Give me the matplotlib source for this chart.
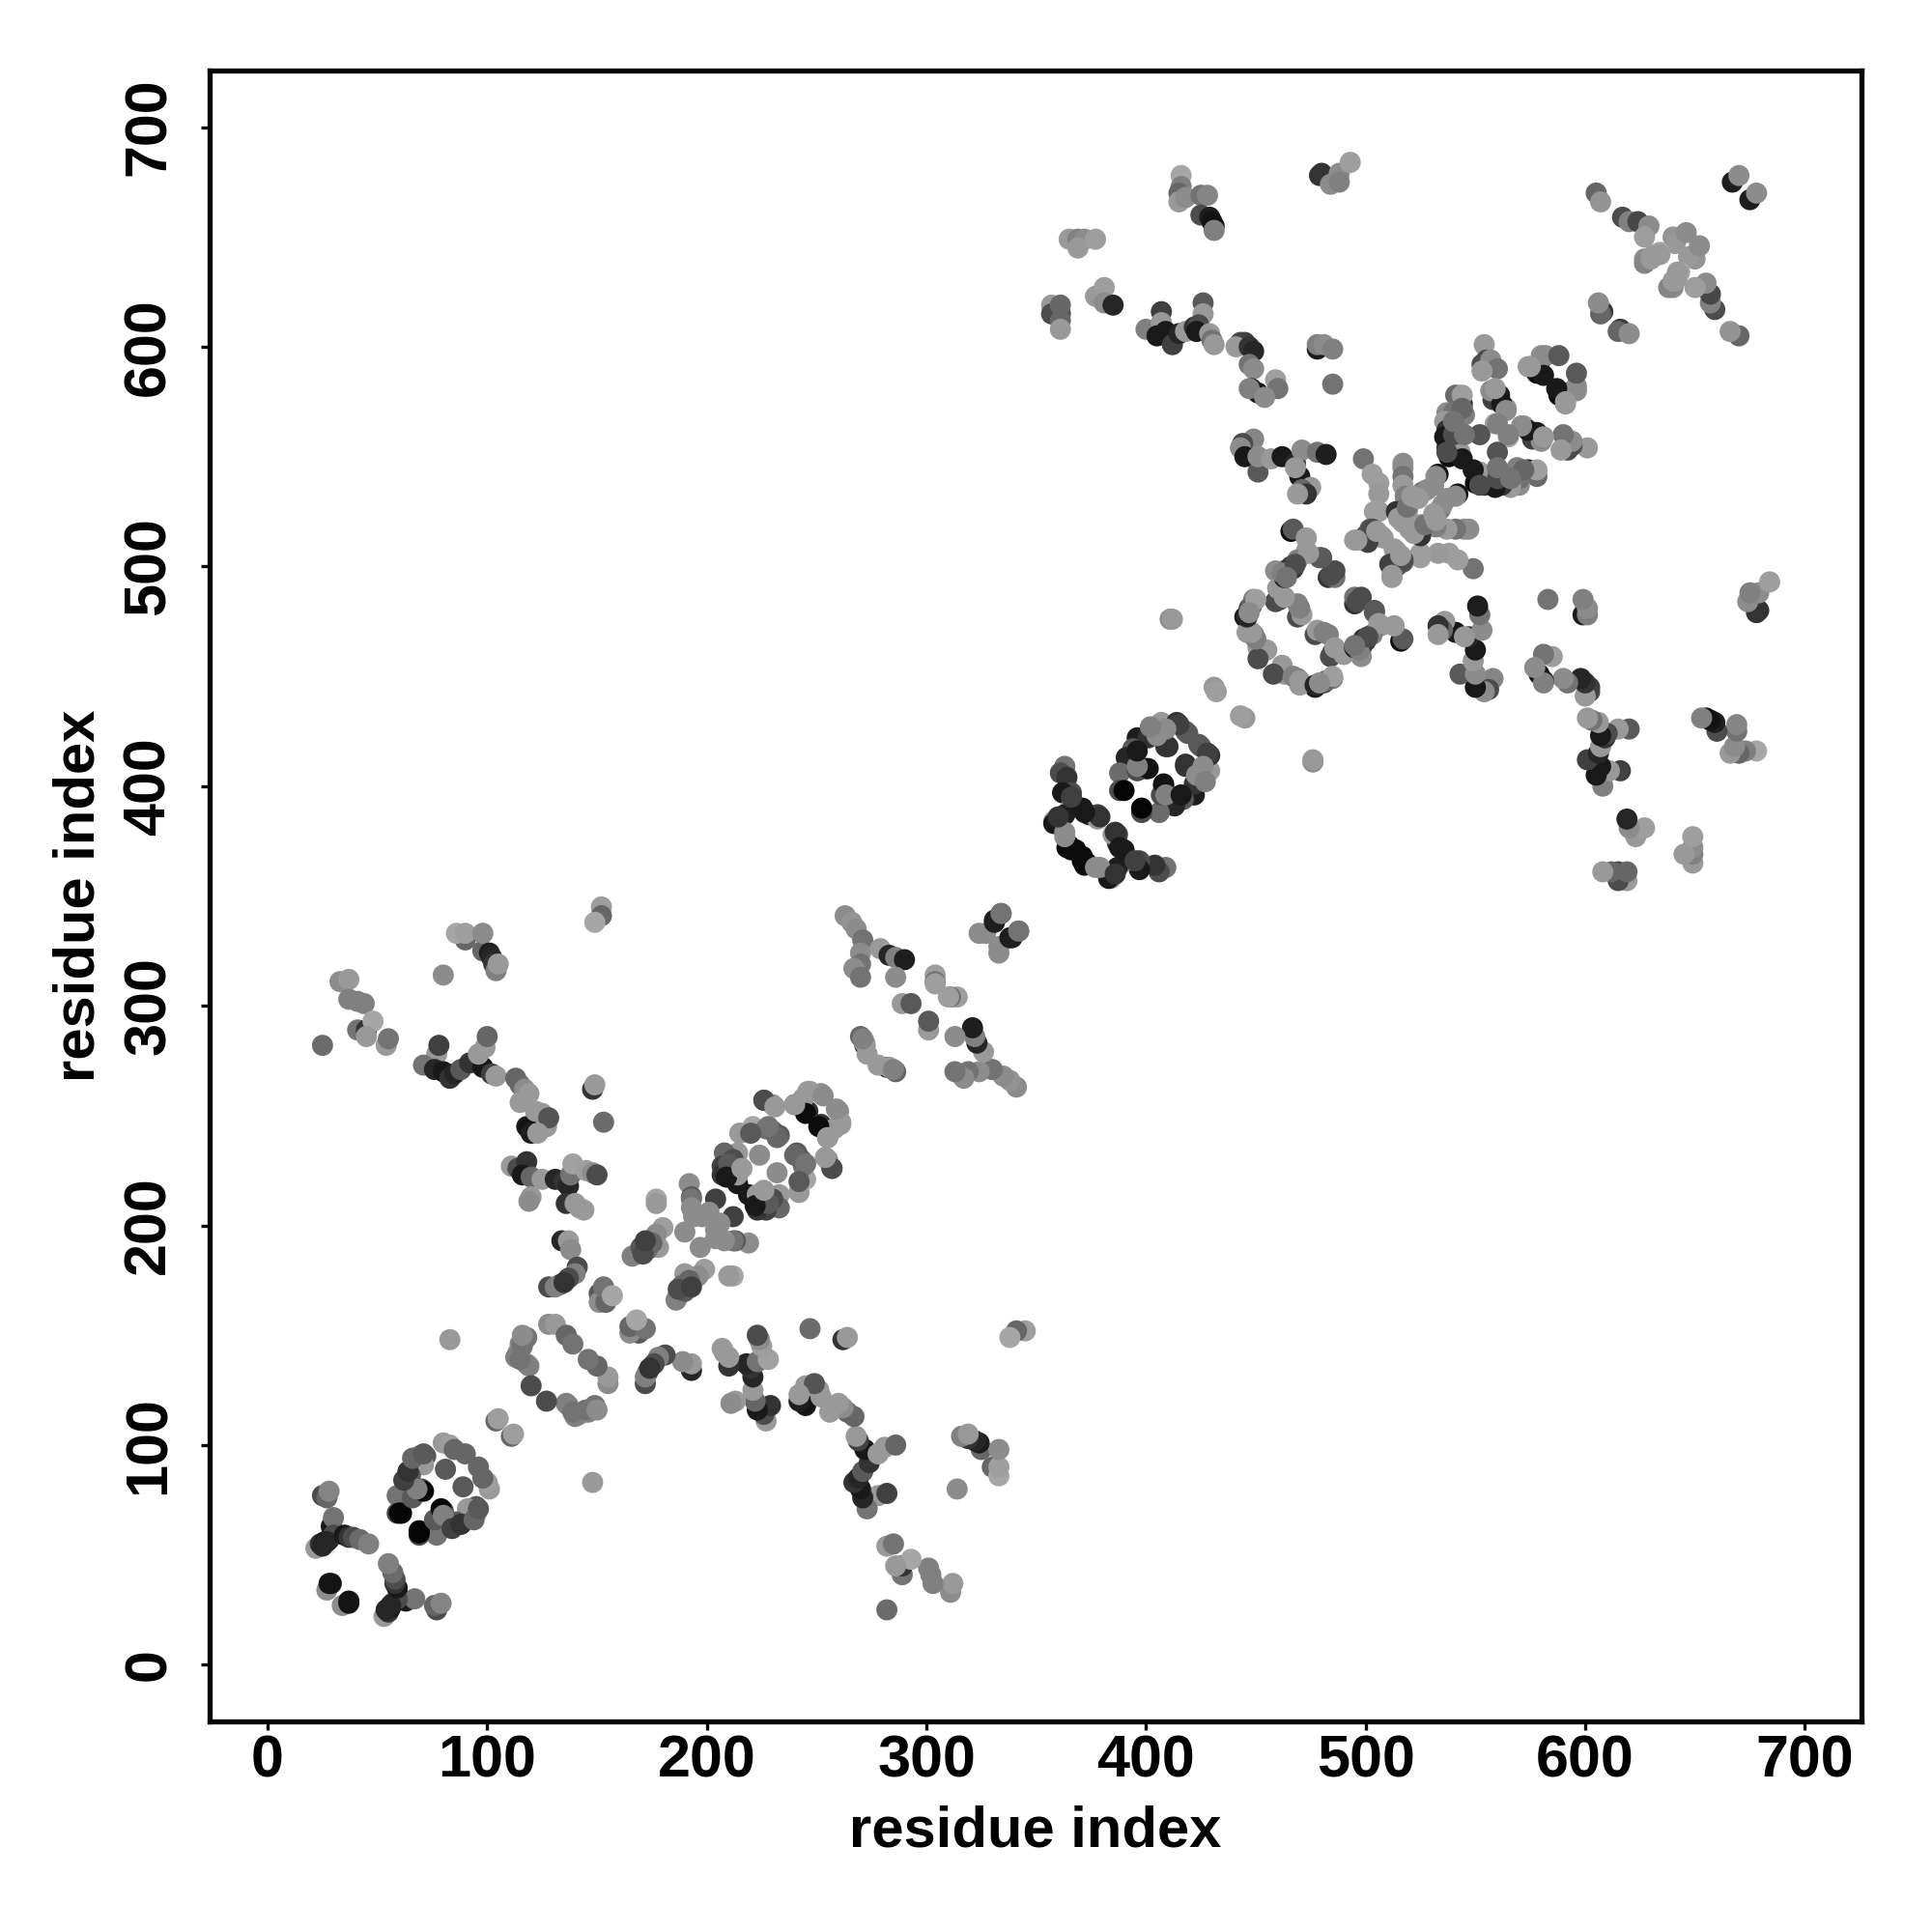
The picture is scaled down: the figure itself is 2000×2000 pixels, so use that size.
import matplotlib
matplotlib.use("Agg")
import matplotlib.pyplot as plt
import numpy as np

# contacts as (residue i, residue j, grey score), only i < j, the map is symmetric
arm_a = [(22, 53, .6), (24, 55, .2), (25, 77, .3), (27, 76, .4), (28, 79, .52), (29, 63, .1), (30, 67, .45),
         (26, 56, .1), (28, 57, .12), (30, 59, .3), (25, 54, .15), (27, 56, .15), (35, 59, .1), (37, 58, .2),
         (39, 58, .3), (42, 57, .42), (46, 55, .5), (27, 34, .55), (28, 37, .08), (29, 37, .08)]
ring_a = [(80, 101, .6), (83, 100, .62), (85, 98, .4), (90, 96, .4), (69, 95, .55), (72, 95, .35),
          (71, 91, .6), (64, 88, .15), (65, 86, .35), (81, 89, .35), (59, 77, .45), (59, 69, .3),
          (61, 69, .02), (60, 69, .02), (66, 76, .35), (70, 80, .3), (71, 79, .03), (68, 80, .5),
          (62, 84, .25), (64, 88, .2), (66, 94, .4), (71, 96, .35), (104, 111, .4), (105, 112, .62)]
far_a = [(152, 345, .62), (152, 341, .4), (149, 338, .65), (90, 330, .4), (86, 333, .65), (90, 333, .62),
         (98, 325, .4), (98, 333, .55), (101, 324, .12), (102, 322, .15), (103, 319, .2), (104, 316, .5),
         (105, 319, .6), (80, 314, .55), (33, 311, .55), (37, 312, .6), (37, 303, .5), (41, 302, .5),
         (44, 301, .5), (41, 289, .45), (45, 289, .2), (48, 293, .65), (45, 286, .6), (54, 282, .6),
         (55, 285, .45), (25, 282, .42), (83, 148, .6)]
band_a = [(77, 278, .6), (78, 282, .25), (71, 273, .45), (76, 271, .15), (80, 270, .1), (83, 267, .2),
          (85, 269, .15), (88, 271, .35), (92, 274, .2), (98, 272, .1), (96, 278, .6), (99, 281, .6),
          (100, 286, .4), (102, 269, .25), (104, 268, .6), (113, 267, .4), (115, 264, .4), (117, 262, .55),
          (119, 260, .6), (115, 256, .6), (118, 245, .1), (119, 244, .08), (120, 242, .12), (122, 252, .6),
          (125, 251, .6), (127, 245, .6), (128, 249, .33), (123, 242, .6), (148, 262, .2), (149, 264, .6),
          (153, 247, .42)]
band_b = [(111, 227, .6), (114, 226, .3), (118, 229, .2), (116, 223, .1), (120, 222, .4), (125, 221, .6),
          (120, 213, .6), (119, 211, .55), (131, 221, .15), (135, 220, .2), (137, 218, .15), (138, 223, .45),
          (139, 228, .63), (145, 225, .62), (148, 224, .55), (150, 223, .3), (136, 210, .2), (140, 210, .6),
          (142, 208, .6), (144, 207, .6), (134, 193, .15), (137, 193, .6), (138, 189, .55), (141, 181, .3),
          (140, 178, .5), (137, 176, .3), (133, 173, .35), (128, 172, .3), (131, 172, .5), (135, 174, .2),
          (151, 169, .35), (151, 165, .55), (154, 165, .4), (153, 172, .45), (157, 168, .65)]
loop_a = [(118, 149, .45), (115, 146, .5), (114, 142, .55), (113, 140, .5), (118, 137, .55), (119, 136, .5),
          (116, 145, .45), (128, 155, .55), (131, 155, .6), (136, 150, .4), (139, 146, .45), (120, 127, .3),
          (115, 139, .45), (116, 150, .55)]
core_a = [(177, 212, .65), (177, 210, .6), (180, 199, .62), (177, 196, .55), (178, 190, .6), (173, 189, .45),
          (168, 187, .3), (166, 186, .5), (175, 192, .4), (170, 190, .35), (171, 187, .3), (172, 193, .25),
          (192, 219, .55), (193, 213, .35), (204, 212, .25), (201, 206, .55), (194, 204, .55), (190, 197, .55),
          (198, 204, .55), (196, 205, .55), (193, 212, .45), (193, 208, .55)]
ring_b = [(226, 257, .35), (230, 255, .58), (240, 255, .4), (242, 255, .12), (246, 252, .2), (244, 258, .6),
          (246, 261, .6), (252, 260, .55), (247, 261, .6), (253, 259, .55), (245, 251, .05), (240, 255, .6),
          (226, 257, .3), (231, 254, .6), (215, 242, .6), (221, 245, .65), (227, 244, .45), (230, 243, .4),
          (233, 241, .35), (224, 232, .55), (232, 240, .4), (228, 245, .45), (214, 233, .6), (208, 233, .4),
          (212, 230, .3), (207, 227, .25), (207, 223, .2), (213, 224, .6), (214, 219, .1), (214, 223, .6),
          (210, 228, .35), (209, 222, .1), (216, 226, .6), (220, 242, .35)]
cross_a = [(263, 341, .55), (266, 338, .58), (268, 335, .55), (271, 330, .45), (270, 324, .55), (270, 319, .45),
           (267, 317, .55), (270, 313, .45), (279, 326, .6), (283, 323, .15), (286, 322, .5), (290, 321, .12),
           (286, 313, .55), (304, 314, .62), (304, 311, .45), (304, 310, .62), (289, 301, .6), (293, 301, .35),
           (270, 286, .4), (272, 282, .15), (273, 278, .6), (272, 283, .6), (271, 285, .5), (331, 339, .12),
           (324, 333, .55), (327, 333, .55), (334, 342, .4), (331, 338, .12), (334, 342, .45)]
arm_b = [(363, 409, .45), (361, 406, .3), (364, 404, .2), (366, 397, .3), (362, 397, .1), (366, 391, .55),
         (358, 384, .6), (358, 383, .1), (360, 385, .12), (363, 387, .12), (371, 390, .1), (374, 387, .2),
         (378, 387, .25), (378, 385, .6), (379, 386, .2), (363, 379, .55), (365, 373, .05), (364, 372, .05),
         (366, 371, .05), (368, 371, .05), (363, 377, .55), (372, 388, .1), (366, 395, .25), (360, 386, .2)]
ring_c = [(407, 429, .6), (414, 429, .2), (418, 425, .38), (409, 418, .2), (401, 423, .2), (396, 422, .12),
          (394, 417, .35), (391, 413, .15), (388, 406, .42), (388, 398, .3), (390, 398, .02), (400, 408, .02),
          (396, 407, .3), (401, 408, .08), (396, 409, .5), (410, 418, .2), (419, 424, .35), (415, 428, .25),
          (409, 426, .55), (401, 422, .2), (396, 416, .1), (405, 423, .55), (402, 427, .5), (431, 445, .6),
          (432, 443, .62)]
far_c = [(416, 678, .65), (416, 673, .5), (415, 670, .4), (415, 666, .6), (418, 668, .55), (425, 669, .45),
         (428, 669, .52), (425, 660, .3), (429, 659, .12), (430, 657, .08), (431, 655, .07), (431, 653, .5),
         (480, 679, .2), (479, 678, .2), (484, 674, .55), (488, 679, .55), (488, 675, .5), (493, 684, .62),
         (365, 649, .6), (369, 649, .5), (372, 649, .55), (369, 645, .6), (377, 649, .62), (379, 623, .2),
         (377, 623, .6), (381, 627, .62), (381, 620, .55), (385, 619, .15), (357, 619, .6), (357, 615, .3),
         (361, 615, .3), (361, 619, .4), (361, 612, .4), (361, 608, .6)]
band_c = [(400, 608, .5), (407, 616, .25), (407, 611, .6), (405, 605, .1), (409, 607, .1), (412, 601, .25),
          (415, 606, .15), (418, 607, .6), (422, 609, .2), (426, 620, .35), (426, 615, .6), (424, 610, .3),
          (423, 607, .1), (429, 606, .6), (430, 603, .45), (431, 601, .6), (443, 602, .3), (445, 602, .25),
          (441, 600, .6), (447, 600, .2), (449, 598, .15), (447, 592, .45), (449, 590, .55), (448, 581, .12),
          (451, 579, .1), (447, 581, .5), (459, 585, .62), (460, 581, .45), (454, 577, .55), (478, 599, .1),
          (478, 601, .5), (481, 601, .55), (485, 599, .5), (485, 583, .45), (411, 476, .55), (412, 476, .6)]
band_d = [(449, 558, .52), (444, 556, .3), (443, 554, .55), (445, 550, .1), (451, 543, .35), (451, 550, .55),
          (457, 549, .6), (462, 550, .1), (468, 547, .15), (471, 553, .55), (478, 552, .45), (482, 551, .12),
          (470, 541, .1), (475, 536, .6), (471, 535, .4), (473, 533, .2), (469, 533, .6), (468, 545, .6)]
core_b = [(499, 549, .45), (503, 542, .62), (506, 538, .62), (506, 533, .6), (506, 525, .62), (504, 525, .62),
          (517, 547, .55), (517, 545, .55), (517, 541, .45), (517, 537, .6), (518, 532, .5), (514, 525, .2),
          (519, 525, .6), (517, 520, .6), (515, 522, .6), (533, 542, .08), (531, 537, .55), (526, 534, .45),
          (523, 532, .55), (495, 512, .6), (500, 514, .3), (502, 517, .35), (507, 514, .6), (504, 514, .5),
          (508, 513, .6), (503, 517, .3), (501, 511, .25), (496, 512, .6), (505, 516, .6), (532, 541, .55),
          (528, 535, .55), (519, 527, .45), (521, 532, .6), (524, 531, .6)]
ring_d = [(466, 516, .05), (467, 517, .35), (473, 513, .6), (473, 507, .6), (479, 504, .35), (469, 503, .5),
          (466, 500, .25), (463, 498, .2), (459, 498, .55), (483, 495, .2), (486, 495, .45), (484, 496, .3),
          (486, 498, .3), (480, 504, .35), (461, 485, .3), (460, 490, .6), (462, 486, .62), (469, 483, .5),
          (469, 477, .3), (471, 478, .6), (470, 481, .5), (459, 484, .3), (463, 486, .6), (460, 490, .6),
          (474, 506, .6), (467, 499, .2), (463, 495, .1), (462, 497, .5), (468, 501, .3), (464, 495, .45),
          (449, 485, .5), (447, 481, .3), (445, 477, .1), (446, 470, .6), (449, 469, .45), (451, 463, .6),
          (455, 462, .6), (451, 458, .3), (450, 467, .5), (448, 470, .6), (446, 477, .15), (448, 482, .4),
          (450, 485, .62), (447, 479, .55)]
ring_e = [(554, 601, .6), (555, 594, .3), (553, 592, .3), (557, 594, .55), (560, 590, .45), (553, 589, .6),
          (574, 591, .6), (578, 588, .05), (579, 592, .1), (580, 596, .55), (582, 596, .55), (588, 596, .35),
          (581, 587, .1), (575, 591, .6), (561, 578, .12), (558, 576, .25), (557, 580, .55), (564, 572, .6),
          (559, 565, .65), (562, 574, .1), (544, 574, .1), (541, 578, .42), (544, 578, .62), (537, 570, .55),
          (540, 570, .45), (545, 569, .5), (536, 566, .6), (537, 562, .2), (540, 561, .32), (552, 560, .33),
          (537, 554, .2), (538, 552, .1), (538, 550, .05), (543, 552, .6), (544, 549, .1), (536, 559, .1),
          (540, 560, .3), (537, 552, .3), (564, 571, .55), (559, 581, .6), (560, 565, .5), (544, 572, .4),
          (545, 560, .45), (540, 566, .45)]
cross_c = [(605, 670, .4), (607, 666, .58), (617, 659, .3), (620, 657, .5), (624, 657, .28), (629, 655, .55),
           (627, 650, .62), (640, 650, .58), (641, 647, .6), (646, 652, .55), (627, 640, .55), (627, 638, .52),
           (632, 642, .62), (634, 643, .65), (630, 641, .6), (667, 675, .12), (670, 678, .55),
           (608, 616, .22), (607, 615, .4), (606, 620, .55), (634, 642, .6), (630, 640, .6)]

regions = [arm_a, ring_a, far_a, band_a, band_b, loop_a, core_a, ring_b, cross_a,
           arm_b, ring_c, far_c, band_c, band_d, core_b, ring_d, ring_e, cross_c]
ticks = [0, 100, 200, 300, 400, 500, 600, 700]

contacts = np.array([c for region in regions for c in region])
res_i = contacts[:, 0]
res_j = contacts[:, 1]
score = contacts[:, 2]

plt.rcParams['font.family'] = ['Liberation Sans', 'DejaVu Sans']
plt.rcParams['font.weight'] = 'bold'

fig = plt.figure(figsize=(10, 10), dpi=200)
ax = fig.add_axes([217 / 2000, 218 / 2000, 1710 / 2000, 1709 / 2000])

ax.scatter(np.r_[res_i, res_j], np.r_[res_j, res_i], c=np.r_[score, score],
           cmap="gray", vmin=0, vmax=1, s=62, linewidths=0)

ax.set_xlim(-26.4, 725.8)
ax.set_ylim(-25.8, 725.8)
ax.set_xticks(ticks)
ax.set_yticks(ticks)
ax.tick_params(width=1.2, length=3.4, labelsize=22)
ax.tick_params(axis="x", pad=1.4)
ax.tick_params(axis="y", pad=8.6)
for label in ax.get_yticklabels():
    label.set_rotation(90)
    label.set_va("center")
for spine in ax.spines.values():
    spine.set_linewidth(1.9)

ax.set_xlabel("residue index", fontsize=21.5, fontweight="bold", labelpad=5.7)
ax.set_ylabel("residue index", fontsize=21.5, fontweight="bold", labelpad=6)

fig.savefig("out.png", dpi=200)
